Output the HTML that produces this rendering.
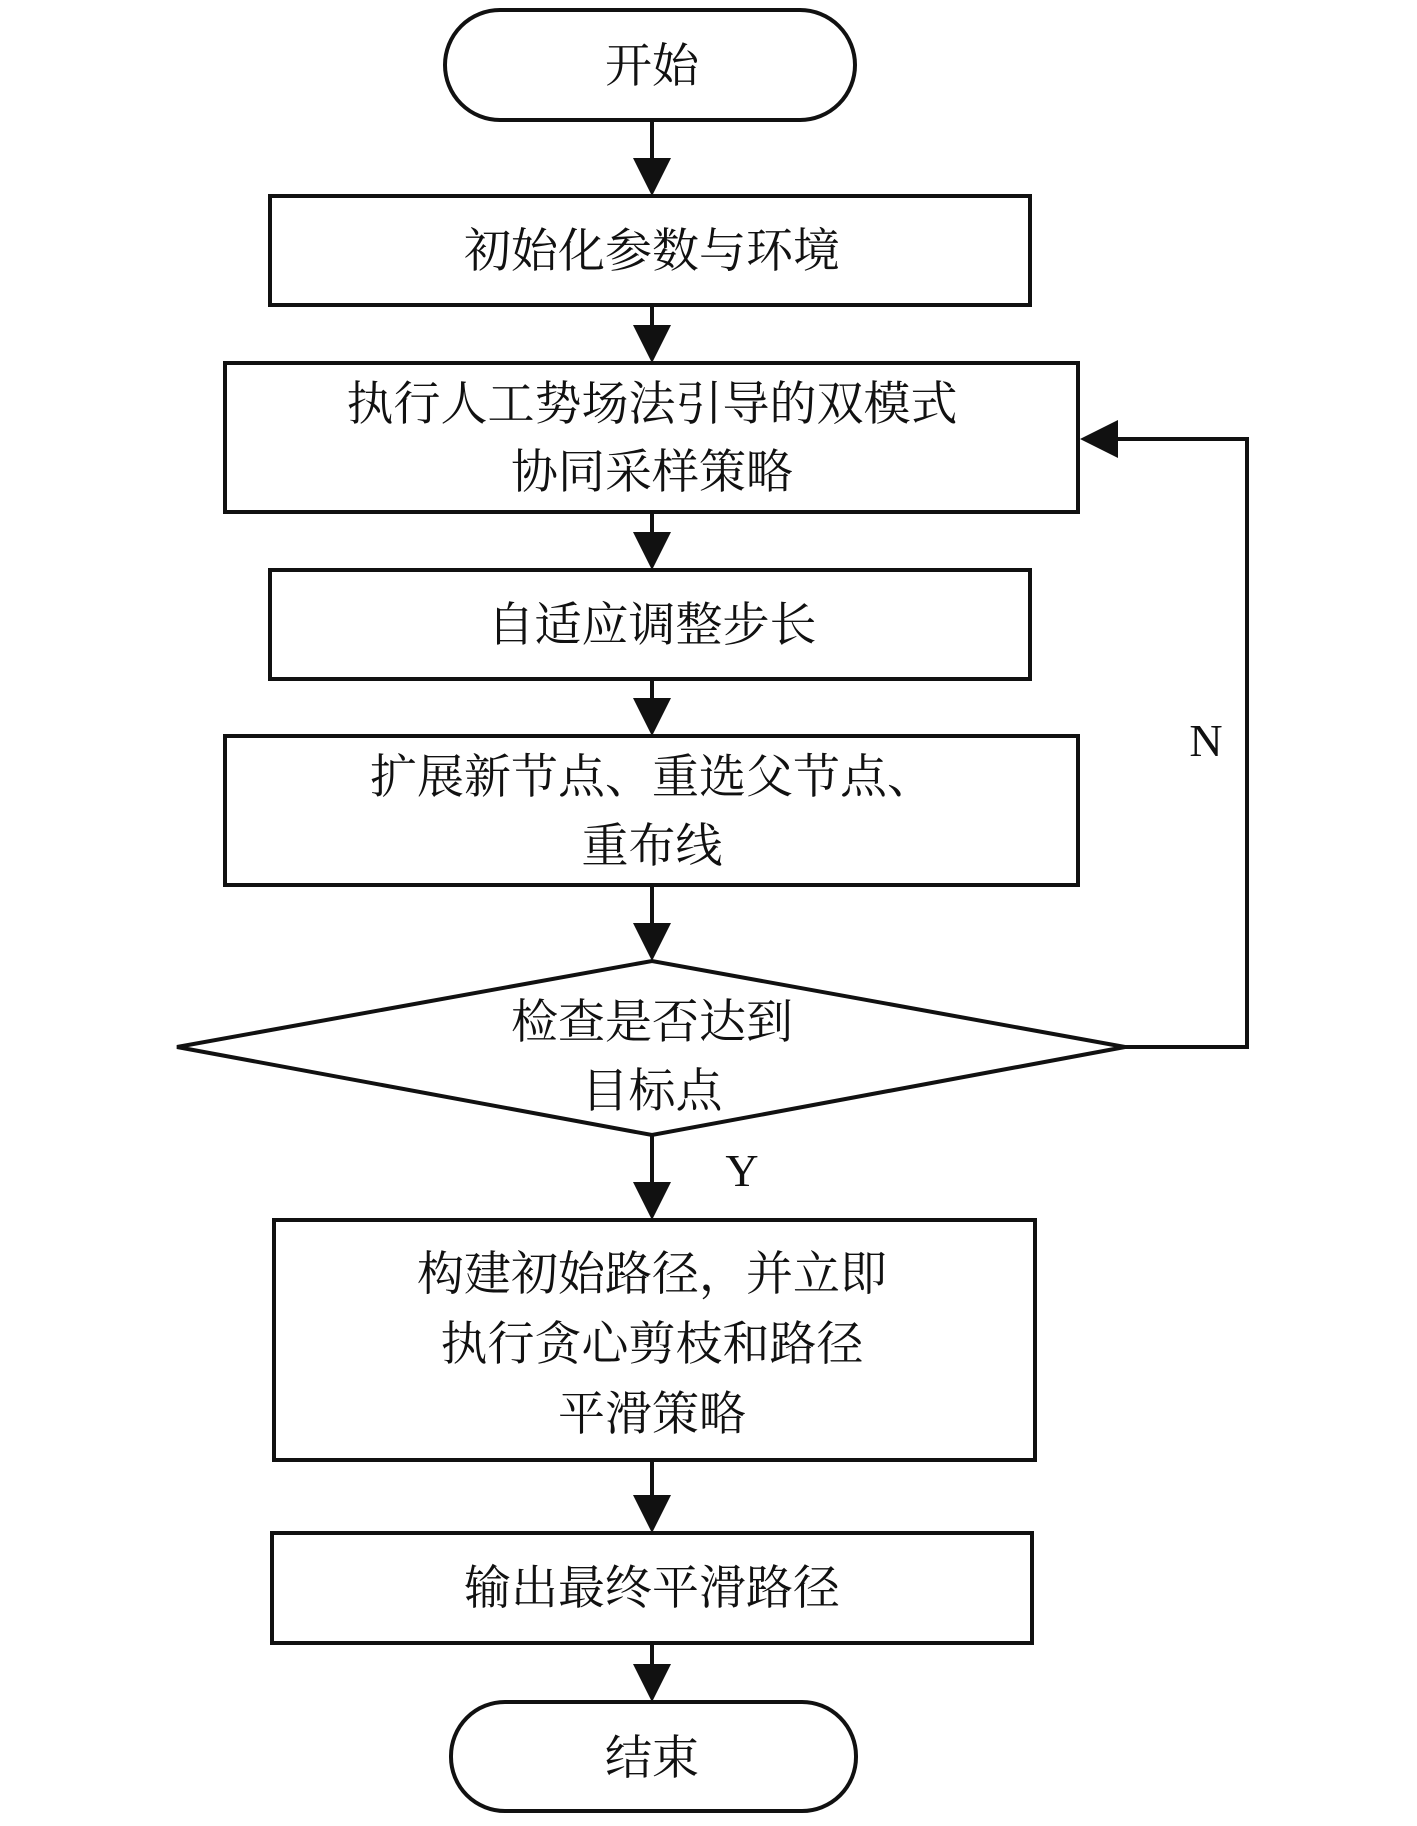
<!DOCTYPE html>
<html><head><meta charset="utf-8"><style>
html,body{margin:0;padding:0;background:#fff;}
svg{display:block;}
text{font-family:"Liberation Serif","Noto Serif CJK SC","Noto Sans CJK SC",serif;font-size:47px;fill:#111;text-anchor:middle;}
</style></head><body>
<svg width="1417" height="1826" viewBox="0 0 1417 1826" xmlns="http://www.w3.org/2000/svg">
<g fill="none" stroke="#111" stroke-width="4">
<rect x="445" y="10" width="410" height="110" rx="55"/>
<rect x="270" y="196" width="760" height="109"/>
<rect x="225" y="363" width="853" height="149"/>
<rect x="270" y="570" width="760" height="109"/>
<rect x="225" y="736" width="853" height="149"/>
<polygon points="177,1047 652,961 1125,1047 652,1135"/>
<rect x="274" y="1220" width="761" height="240"/>
<rect x="272" y="1533" width="760" height="110"/>
<rect x="451" y="1702" width="405" height="109" rx="54"/>
<line x1="652" y1="120" x2="652" y2="160"/>
<line x1="652" y1="305" x2="652" y2="328"/>
<line x1="652" y1="512" x2="652" y2="535"/>
<line x1="652" y1="679" x2="652" y2="701"/>
<line x1="652" y1="885" x2="652" y2="925"/>
<line x1="652" y1="1135" x2="652" y2="1184"/>
<line x1="652" y1="1460" x2="652" y2="1497"/>
<line x1="652" y1="1643" x2="652" y2="1666"/>
<polyline points="1125,1047 1247,1047 1247,439 1115,439"/>
</g>
<g fill="#111">
<polygon points="633,158 671,158 652,196"/>
<polygon points="633,325 671,325 652,363"/>
<polygon points="633,532 671,532 652,570"/>
<polygon points="633,698 671,698 652,736"/>
<polygon points="633,923 671,923 652,961"/>
<polygon points="633,1182 671,1182 652,1220"/>
<polygon points="633,1495 671,1495 652,1533"/>
<polygon points="633,1664 671,1664 652,1702"/>
<polygon points="1080,439 1118,420 1118,458"/>
</g>
<text x="652" y="82">开始</text>
<text x="652" y="267">初始化参数与环境</text>
<text x="652" y="420">执行人工势场法引导的双模式</text>
<text x="652" y="488">协同采样策略</text>
<text x="652" y="641">自适应调整步长</text>
<text x="652" y="793">扩展新节点、重选父节点、</text>
<text x="652" y="862">重布线</text>
<text x="652" y="1038">检查是否达到</text>
<text x="652" y="1107">目标点</text>
<text x="652" y="1290">构建初始路径，并立即</text>
<text x="652" y="1360">执行贪心剪枝和路径</text>
<text x="652" y="1430">平滑策略</text>
<text x="652" y="1604">输出最终平滑路径</text>
<text x="652" y="1774">结束</text>
<text x="1206" y="756" style="font-size:46px">N</text>
<text x="742" y="1186" style="font-size:46px">Y</text>
</svg>
</body></html>
